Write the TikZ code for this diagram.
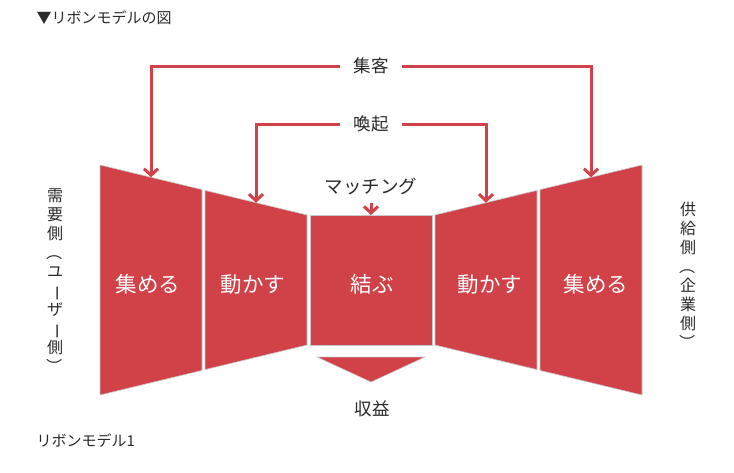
\documentclass[tikz,border=0pt]{standalone}
\usepackage{fontspec}
\setmainfont{Noto Sans CJK JP}
\usetikzlibrary{arrows.meta}
\definecolor{ribred}{HTML}{D14248}
\definecolor{txtgray}{HTML}{2A2A2A}
\begin{document}
\begin{tikzpicture}[x=1pt,y=-1pt,
  seg/.style={fill=ribred, draw=black!22, line width=0.6pt},
  lbl/.style={text=white, font=\fontsize{21.5}{24}\selectfont},
  captext/.style={text=txtgray, font=\fontsize{15}{18}\selectfont},
  midtext/.style={text=txtgray, font=\fontsize{17.5}{20}\selectfont},
  verttext/.style={text=txtgray, align=center, font=\fontsize{16}{19}\selectfont},
  flow/.style={draw=ribred, line width=3pt,
    -{Straight Barb[length=6.5pt,width=14pt]}}]
\fill[white] (0,0) rectangle (734,472);
\useasboundingbox (0,0) rectangle (734,472);

% ribbon segments
\draw[seg] (100,165) -- (202,189.6) -- (202,370.4) -- (100,395) -- cycle;
\draw[seg] (205,190.4) -- (307,215) -- (307,345) -- (205,369.6) -- cycle;
\draw[seg] (310,215) rectangle (432,345);
\draw[seg] (435,215) -- (537,190.4) -- (537,369.6) -- (435,345) -- cycle;
\draw[seg] (540,189.6) -- (642,165) -- (642,395) -- (540,370.4) -- cycle;
\draw[seg] (317,357) -- (425,357) -- (371,382) -- cycle;

% labels in segments
\node[lbl] (l1) at (148,284) {集める};
\node[lbl] (l2) at (253,284) {動かす};
\node[lbl] (l3) at (372,284) {結ぶ};
\node[lbl] (l4) at (490,284) {動かす};
\node[lbl] (l5) at (596,284) {集める};

% arrow targets
\coordinate (t1) at (151,177.3);
\coordinate (t2) at (256,202.7);
\coordinate (t4) at (486,202.7);
\coordinate (t5) at (591,177.3);
\coordinate (tc) at (371,215);

% top labels and arrows
\node[midtext, inner xsep=13pt] (shukyaku) at (371,66) {集客};
\node[midtext, inner xsep=13pt] (kanki) at (371,124) {喚起};
\node[midtext, font=\fontsize{18.5}{20}\selectfont] (matching) at (371,186) {マッチング};
\draw[flow] (shukyaku.west) -| (t1);
\draw[flow] (shukyaku.east) -| (t5);
\draw[flow] (kanki.west) -| (t2);
\draw[flow] (kanki.east) -| (t4);
\draw[flow, shorten <=5pt] (matching.south) -- (tc);

% bottom
\node[midtext] (revenue) at (372,409) {収益};

% side texts
\node[verttext] (demand) at (55,282) {需\\要\\側\\\rotatebox[origin=c]{-90}{（}\\ユ\\\rotatebox[origin=c]{-90}{ー}\\ザ\\\rotatebox[origin=c]{-90}{ー}\\側\\\rotatebox[origin=c]{-90}{）}};
\node[verttext] (supply) at (688,276) {供\\給\\側\\\rotatebox[origin=c]{-90}{（}\\企\\業\\側\\\rotatebox[origin=c]{-90}{）}};

% captions
\node[captext, anchor=west] (title) at (33,18) {▼リボンモデルの図};
\node[captext, anchor=west] (caption) at (33,441) {リボンモデル1};
\end{tikzpicture}
\end{document}
